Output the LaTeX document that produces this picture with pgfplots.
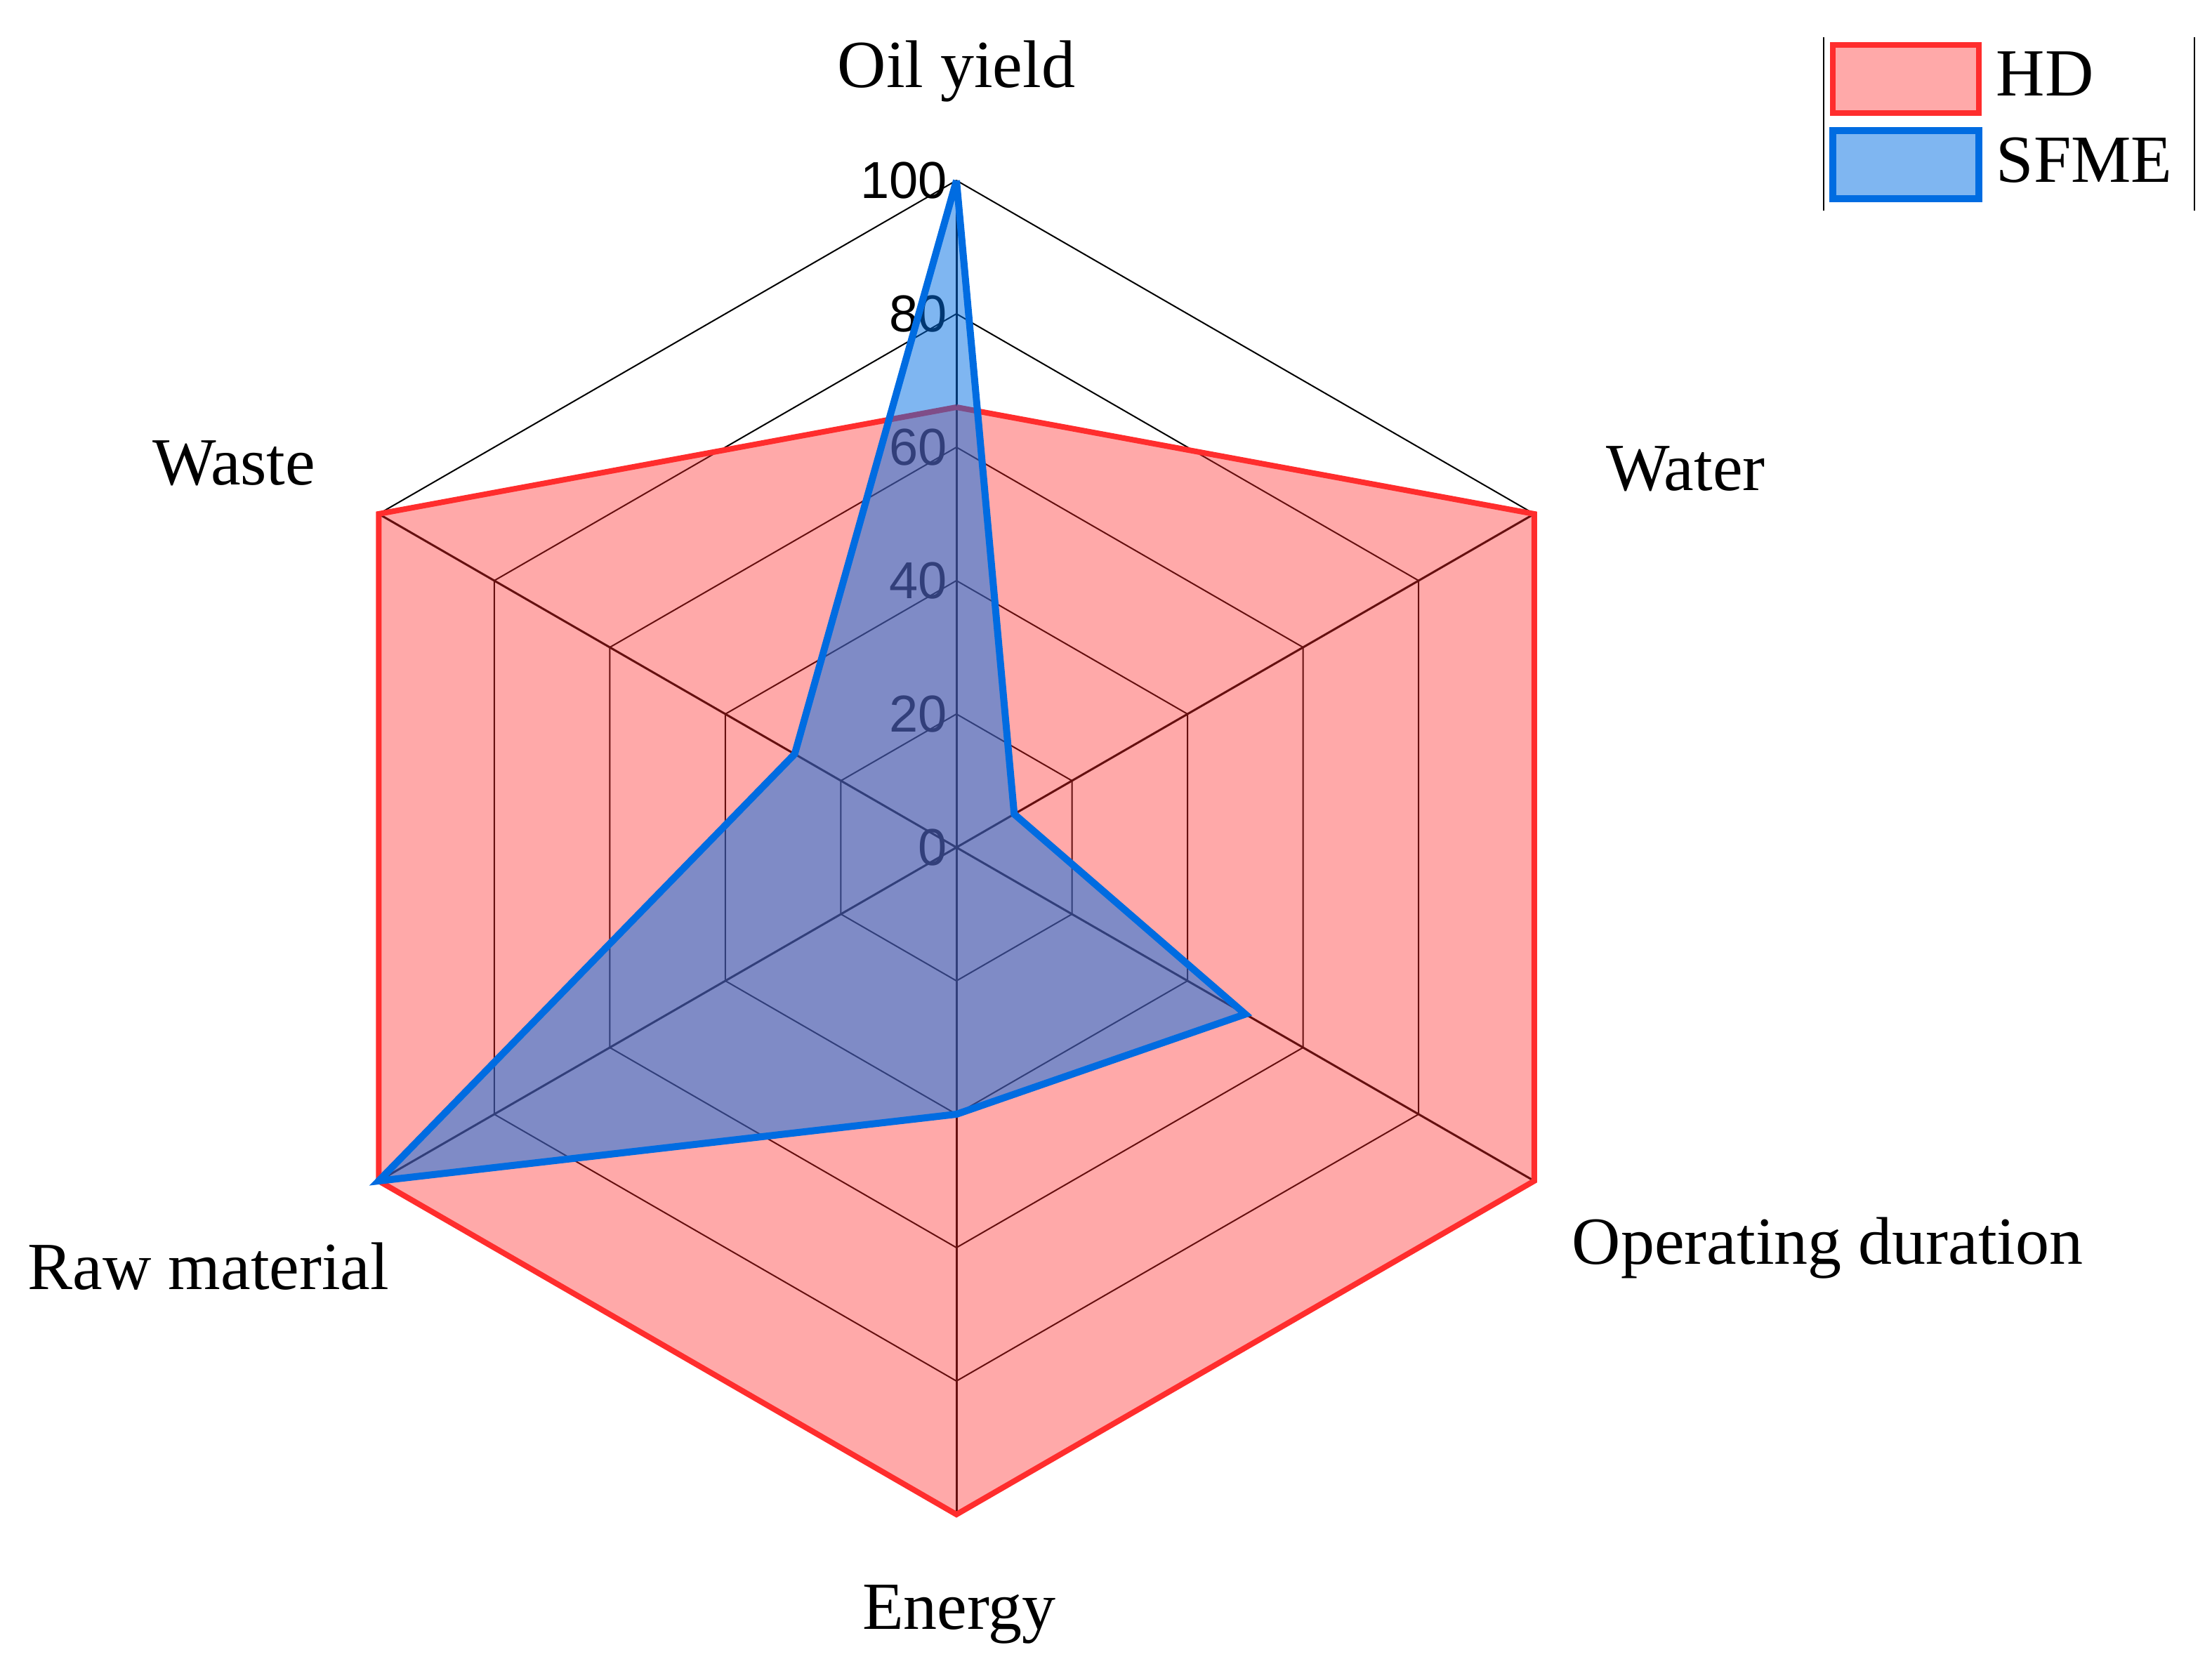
\documentclass[border=0pt]{standalone}
\usepackage{fontspec}
\setmainfont{Liberation Serif}
\newfontfamily\tickfont{Liberation Sans}
\usepackage{pgfplots}
\pgfplotsset{compat=1.18}

\definecolor{hdline}{RGB}{255,45,45}
\definecolor{hdfill}{RGB}{255,40,40}
\definecolor{sfline}{RGB}{0,108,225}
\definecolor{sffill}{RGB}{0,110,228}

\begin{document}
\begin{tikzpicture}
\begin{axis}[
  at={(136.2pt,117.2pt)}, anchor=origin,
  x=0.95pt, y=0.95pt,
  xmin=-100, xmax=100, ymin=-100, ymax=100,
  hide axis, clip=false,
  data cs=polar,
  legend style={at={(axis cs:130.6,121.6)}, anchor=north west, draw=none, fill=none,
    inner sep=0pt, font=\fontsize{9.6}{11}\selectfont, row sep=0.4pt,
    /tikz/every even column/.append style={column sep=1pt}},
  legend cell align=left,
  legend image code/.code={\draw[#1] (0pt,-4.85pt) rectangle (20.8pt,4.85pt);},
]
% grid: rings and spokes
\addplot[black, line width=0.2pt, forget plot] coordinates {(90,20) (30,20) (-30,20) (-90,20) (-150,20) (150,20) (90,20)};
\addplot[black, line width=0.2pt, forget plot] coordinates {(90,40) (30,40) (-30,40) (-90,40) (-150,40) (150,40) (90,40)};
\addplot[black, line width=0.2pt, forget plot] coordinates {(90,60) (30,60) (-30,60) (-90,60) (-150,60) (150,60) (90,60)};
\addplot[black, line width=0.2pt, forget plot] coordinates {(90,80) (30,80) (-30,80) (-90,80) (-150,80) (150,80) (90,80)};
\addplot[black, line width=0.2pt, forget plot] coordinates {(90,100) (30,100) (-30,100) (-90,100) (-150,100) (150,100) (90,100)};
\addplot[black, line width=0.3pt, forget plot] coordinates {(90,100) (270,100)};
\addplot[black, line width=0.3pt, forget plot] coordinates {(30,100) (210,100)};
\addplot[black, line width=0.3pt, forget plot] coordinates {(-30,100) (150,100)};

% tick labels
\pgfplotsinvokeforeach{0,20,40,60,80,100}{
  \node[anchor=east, inner sep=0pt, font=\tickfont\fontsize{7.4}{8}\selectfont]
    at (axis cs:-1.2,#1) {#1};
}

% HD
\addplot[draw=hdline, line width=0.8pt, fill=hdfill, fill opacity=0.4,
  line join=miter]
  coordinates {(90,66) (30,100) (-30,100) (-90,100) (-150,100) (150,100) (90,66)};
\addlegendentry{HD}
% SFME
\addplot[draw=sfline, line width=1.0pt, fill=sffill, fill opacity=0.5,
  line join=miter]
  coordinates {(90,100) (30,10) (-30,50) (-90,40) (-150,100) (150,28) (90,100)};
\addlegendentry{SFME}

% category labels
\node[font=\fontsize{9.6}{11}\selectfont, inner sep=0pt] at (axis cs:0,116.4) {Oil yield};
\node[font=\fontsize{9.6}{11}\selectfont, inner sep=0pt] at (axis cs:109.3,56.8) {Water};
\node[font=\fontsize{9.6}{11}\selectfont, inner sep=0pt] at (axis cs:130.6,-60.1) {Operating duration};
\node[font=\fontsize{9.6}{11}\selectfont, inner sep=0pt] at (axis cs:0.4,-115) {Energy};
\node[font=\fontsize{9.6}{11}\selectfont, inner sep=0pt] at (axis cs:-112.1,-62.8) {Raw material};
\node[font=\fontsize{9.6}{11}\selectfont, inner sep=0pt] at (axis cs:-108.3,57.6) {Waste};
\end{axis}
\draw[line width=0.25pt] (259.7pt,207.9pt) -- (259.7pt,232.6pt);
\draw[line width=0.25pt] (312.5pt,207.9pt) -- (312.5pt,232.6pt);
\pgfresetboundingbox
\useasboundingbox (0,0) rectangle (315pt,237.9pt);
\end{tikzpicture}
\end{document}
